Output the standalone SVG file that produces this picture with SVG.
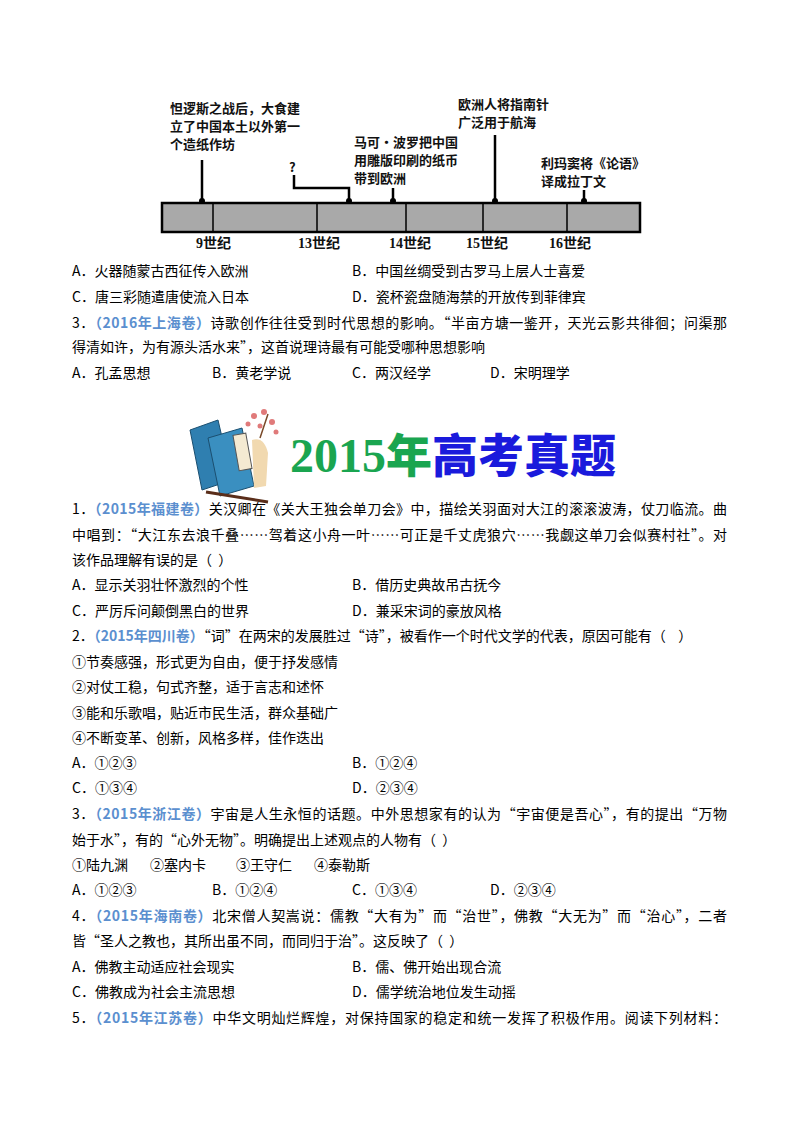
<svg xmlns="http://www.w3.org/2000/svg" width="800" height="1132" viewBox="0 0 800 1132">
<style>
.t{font-family:"Noto Sans CJK SC","Liberation Serif",serif;font-size:14px;fill:#000;white-space:pre}
.s{font-family:"Noto Sans CJK SC",sans-serif;font-size:13px;font-weight:bold;fill:#111}
.c{font-family:"Liberation Serif","Noto Sans CJK SC",serif;font-size:14px;font-weight:bold;fill:#111}
.b{fill:#5b8fcf;font-weight:bold}
.pin{stroke:#000;stroke-width:2.5;fill:none}
</style>
<rect width="800" height="1132" fill="#fff"/>
<g id="timeline">
<rect x="162" y="203" width="478" height="29" fill="#a9a9a9" stroke="#000" stroke-width="2.5"/>
<g stroke="#000" stroke-width="1.5">
<line x1="213" y1="203" x2="213" y2="232"/><line x1="317" y1="203" x2="317" y2="232"/>
<line x1="406" y1="203" x2="406" y2="232"/><line x1="483" y1="203" x2="483" y2="232"/>
<line x1="567" y1="203" x2="567" y2="232"/>
</g>
<g id="connectors">
<path class="pin" d="M202 160V201"/><path class="pin" d="M294 175V188H349V201"/>
<path class="pin" d="M393 188V201"/><path class="pin" d="M495 135V201"/><path class="pin" d="M584 190V201"/>
<g fill="#000"><circle cx="202" cy="201" r="3"/><circle cx="349" cy="201" r="3"/><circle cx="393" cy="201" r="3"/><circle cx="495" cy="201" r="3"/><circle cx="584" cy="201" r="3"/></g>
</g>
<text class="s" x="170" y="113">怛逻斯之战后，大食建</text>
<text class="s" x="170" y="131">立了中国本土以外第一</text>
<text class="s" x="170" y="149">个造纸作坊</text>
<text class="s" x="289" y="172">?</text>
<text class="s" x="354" y="147">马可·波罗把中国</text>
<text class="s" x="354" y="165">用雕版印刷的纸币</text>
<text class="s" x="354" y="183">带到欧洲</text>
<text class="s" x="458" y="109">欧洲人将指南针</text>
<text class="s" x="458" y="127">广泛用于航海</text>
<text class="s" x="541" y="168">利玛窦将《论语》</text>
<text class="s" x="541" y="186">译成拉丁文</text>
<text class="c" x="196" y="248">9世纪</text><text class="c" x="298" y="248">13世纪</text>
<text class="c" x="389" y="248">14世纪</text><text class="c" x="466" y="248">15世纪</text>
<text class="c" x="549" y="248">16世纪</text>
</g>
<g id="q-top">
<text class="t" x="72" y="276">A．火器随蒙古西征传入欧洲</text><text class="t" x="352" y="276">B．中国丝绸受到古罗马上层人士喜爱</text>
<text class="t" x="72" y="302">C．唐三彩随遣唐使流入日本</text><text class="t" x="352" y="302">D．瓷杯瓷盘随海禁的开放传到菲律宾</text>
<text class="t" x="72" y="328" textLength="655" lengthAdjust="spacing">3．<tspan class="b">（2016年上海卷）</tspan>诗歌创作往往受到时代思想的影响。“半亩方塘一鉴开，天光云影共徘徊；问渠那</text>
<text class="t" x="72" y="352">得清如许，为有源头活水来”，这首说理诗最有可能受哪种思想影响</text>
<text class="t" x="72" y="378">A．孔孟思想</text><text class="t" x="212" y="378">B．黄老学说</text><text class="t" x="352" y="378">C．两汉经学</text><text class="t" x="490" y="378">D．宋明理学</text>
</g>
<g id="header">
<g transform="translate(188,408)">
<path d="M2 22 L30 12 L44 72 L14 82 Z" fill="#2f7fb0" stroke="#1b4f70"/>
<path d="M20 30 L54 20 L66 78 L32 88 Z" fill="#3a8fc0" stroke="#1b4f70"/>
<rect x="48" y="26" width="13" height="36" fill="#f4ead2" stroke="#555" transform="rotate(-10 54 44)"/>
<path d="M64 32 Q76 28 80 45 L78 78 L66 80 Z" fill="#f1d9b0"/>
<g fill="#e07a7a"><circle cx="66" cy="8" r="3"/><circle cx="76" cy="4" r="3"/><circle cx="84" cy="14" r="3"/><circle cx="60" cy="16" r="2.5"/><circle cx="88" cy="24" r="2.5"/><circle cx="72" cy="18" r="2.5"/></g>
<path d="M72 30 L80 6" stroke="#7a4a2a" stroke-width="1.5"/>
<path d="M18 84 L80 94" stroke="#5a2e1a" stroke-width="3"/>
</g>
<text x="290" y="472" font-family="Liberation Serif,serif" font-size="48" font-weight="bold" fill="#1aa550">2015<tspan font-family="Noto Sans CJK SC,sans-serif" font-size="46" font-weight="900">年</tspan><tspan font-family="Noto Sans CJK SC,sans-serif" font-size="46" font-weight="900" fill="#1a1adc">高考真题</tspan></text>
</g>
<g id="q-2015">
<text class="t" x="72" y="514" textLength="655" lengthAdjust="spacing">1．<tspan class="b">（2015年福建卷）</tspan>关汉卿在《关大王独会单刀会》中，描绘关羽面对大江的滚滚波涛，仗刀临流。曲</text>
<text class="t" x="72" y="540" textLength="655" lengthAdjust="spacing">中唱到：“大江东去浪千叠……驾着这小舟一叶……可正是千丈虎狼穴……我觑这单刀会似赛村社”。对</text>
<text class="t" x="72" y="565">该作品理解有误的是（  ）</text>
<text class="t" x="72" y="590">A．显示关羽壮怀激烈的个性</text><text class="t" x="352" y="590">B．借历史典故吊古抚今</text>
<text class="t" x="72" y="616">C．严厉斥问颠倒黑白的世界</text><text class="t" x="352" y="616">D．兼采宋词的豪放风格</text>
<text class="t" x="72" y="641">2．<tspan class="b">（2015年四川卷）</tspan>“词”在两宋的发展胜过“诗”，被看作一个时代文学的代表，原因可能有（    ）</text>
<text class="t" x="72" y="667">①节奏感强，形式更为自由，便于抒发感情</text>
<text class="t" x="72" y="692">②对仗工稳，句式齐整，适于言志和述怀</text>
<text class="t" x="72" y="718">③能和乐歌唱，贴近市民生活，群众基础广</text>
<text class="t" x="72" y="743">④不断变革、创新，风格多样，佳作迭出</text>
<text class="t" x="72" y="768">A．①②③</text><text class="t" x="352" y="768">B．①②④</text>
<text class="t" x="72" y="793">C．①③④</text><text class="t" x="352" y="793">D．②③④</text>
<text class="t" x="72" y="819" textLength="655" lengthAdjust="spacing">3．<tspan class="b">（2015年浙江卷）</tspan>宇宙是人生永恒的话题。中外思想家有的认为“宇宙便是吾心”，有的提出“万物</text>
<text class="t" x="72" y="845">始于水”，有的“心外无物”。明确提出上述观点的人物有（  ）</text>
<text class="t" x="72" y="870">①陆九渊</text><text class="t" x="150" y="870">②塞内卡</text><text class="t" x="236" y="870">③王守仁</text><text class="t" x="314" y="870">④泰勒斯</text>
<text class="t" x="72" y="895">A．①②③</text><text class="t" x="212" y="895">B．①②④</text><text class="t" x="352" y="895">C．①③④</text><text class="t" x="490" y="895">D．②③④</text>
<text class="t" x="72" y="921" textLength="655" lengthAdjust="spacing">4．<tspan class="b">（2015年海南卷）</tspan>北宋僧人契嵩说：儒教“大有为”而“治世”，佛教“大无为”而“治心”，二者</text>
<text class="t" x="72" y="946">皆“圣人之教也，其所出虽不同，而同归于治”。这反映了（  ）</text>
<text class="t" x="72" y="972">A．佛教主动适应社会现实</text><text class="t" x="352" y="972">B．儒、佛开始出现合流</text>
<text class="t" x="72" y="997">C．佛教成为社会主流思想</text><text class="t" x="352" y="997">D．儒学统治地位发生动摇</text>
<text class="t" x="72" y="1023" textLength="655" lengthAdjust="spacing">5．<tspan class="b">（2015年江苏卷）</tspan>中华文明灿烂辉煌，对保持国家的稳定和统一发挥了积极作用。阅读下列材料：</text>
</g>
</svg>
